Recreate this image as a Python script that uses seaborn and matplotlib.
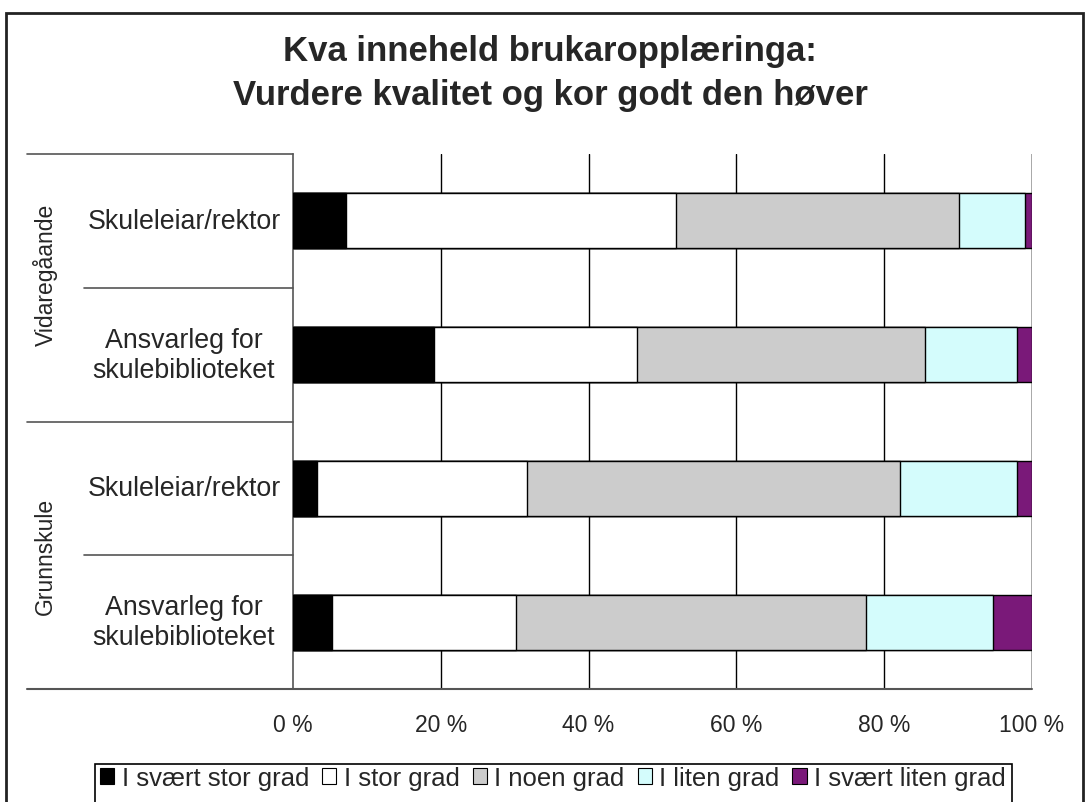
import numpy as np
import pandas as pd
import seaborn as sns
import matplotlib.pyplot as plt
from matplotlib.patches import Patch, Rectangle
from matplotlib.lines import Line2D
from matplotlib.transforms import blended_transform_factory

# ---- data -------------------------------------------------------------
groups = ["Vidaregåande", "Vidaregåande", "Grunnskule", "Grunnskule"]
roles = ["Skuleleiar/rektor", "Ansvarleg for\nskulebiblioteket",
         "Skuleleiar/rektor", "Ansvarleg for\nskulebiblioteket"]
levels = ["I svært stor grad", "I stor grad", "I noen grad",
          "I liten grad", "I svært liten grad"]
svaert_stor = [7.2, 19.1, 3.3, 5.3]
stor = [44.6, 27.5, 28.3, 24.9]
noen = [38.3, 38.9, 50.6, 47.4]
liten = [9.0, 12.5, 15.8, 17.1]
svaert_liten = [0.9, 2.0, 2.0, 5.3]
x_ticks = [0, 20, 40, 60, 80, 100]
x_tick_labels = ["0 %", "20 %", "40 %", "60 %", "80 %", "100 %"]
title_lines = ["Kva inneheld brukaropplæringa:",
               "Vurdere kvalitet og kor godt den høver"]

colors = ["#000000", "#FFFFFF", "#CCCCCC", "#D4FCFC", "#7A1979"]

# ---- style ------------------------------------------------------------
sns.set_style("white")
plt.rcParams["font.family"] = ["Liberation Sans", "DejaVu Sans"]

W, H = 1086, 803
fig = plt.figure(figsize=(W / 100, H / 100), dpi=100)
fig.patch.set_facecolor("white")

def fx(px):
    return px / W

def fy(py):
    return 1 - py / H

ax_l, ax_r, ax_t, ax_b = 293, 1032, 155, 690
ax = fig.add_axes([fx(ax_l), fy(ax_b), fx(ax_r - ax_l), (ax_b - ax_t) / H])
ax.set_facecolor("white")

keys = [f"{g} | {r}" for g, r in zip(groups, roles)]
segments = np.array([svaert_stor, stor, noen, liten, svaert_liten])
cum = np.cumsum(segments, axis=0)
df = pd.DataFrame({"key": keys})

# stacked bars: draw cumulative totals from the widest down
for i in reversed(range(len(levels))):
    df["value"] = cum[i]
    sns.barplot(data=df, x="value", y="key", orient="h", color=colors[i],
                saturation=1, edgecolor="black", linewidth=1.0, width=0.41,
                errorbar=None, ax=ax, zorder=3)

ax.set_xlim(0, 100)
ax.set_ylim(3.5, -0.5)
ax.set_xlabel("")
ax.set_ylabel("")

# vertical grid
for v in x_ticks[1:-1]:
    ax.axvline(v, color="black", lw=1.0, zorder=1)
ax.axvline(100, color="#9a9a9a", lw=1.2, zorder=1)

for s in ["top", "right", "bottom"]:
    ax.spines[s].set_visible(False)
ax.spines["left"].set_color("#555555")
ax.spines["left"].set_linewidth(1.2)

ax.set_xticks(x_ticks)
ax.set_xticklabels(x_tick_labels, fontsize=16.5)
ax.tick_params(axis="x", direction="out", length=7, width=1, color="black",
               pad=10)
ax.set_yticks([])

# category axis: separators and labels on the left
ytr = blended_transform_factory(ax.transAxes, ax.transData)
left_outer = (27 - ax_l) / (ax_r - ax_l)
left_inner = (84 - ax_l) / (ax_r - ax_l)
for y in [-0.5, 1.5]:
    ax.add_line(Line2D([left_outer, 0], [y, y], transform=ytr, color="#555555",
                       lw=1.2, clip_on=False))
ax.add_line(Line2D([left_outer, 1], [3.5, 3.5], transform=ytr, color="#555555",
                   lw=1.5, clip_on=False, zorder=4))
for y in [0.5, 2.5]:
    ax.add_line(Line2D([left_inner, 0], [y, y], transform=ytr, color="#555555",
                       lw=1.2, clip_on=False))

role_x = (184 - ax_l) / (ax_r - ax_l)
for i, r in enumerate(roles):
    ax.text(role_x, i, r, transform=ytr, ha="center", va="center",
            fontsize=19.3, linespacing=1.2)

group_x = (45 - ax_l) / (ax_r - ax_l)
for gname, ypos in [("Vidaregåande", 0.4), ("Grunnskule", 2.5)]:
    ax.text(group_x, ypos, gname, transform=ytr, ha="center", va="center",
            rotation=90, fontsize=16.5)

# title
fig.text(fx(550), fy(51), title_lines[0], ha="center", va="center",
         fontsize=25, fontweight="bold")
fig.text(fx(550), fy(95), title_lines[1], ha="center", va="center",
         fontsize=25, fontweight="bold")

# legend
handles = [Patch(facecolor=c, edgecolor="black", linewidth=0.8) for c in colors]
fig.legend(handles, levels, loc="center", bbox_to_anchor=(fx(553), fy(779)),
           ncol=5, frameon=False, fontsize=18.5, handlelength=0.55,
           handleheight=0.55, handletextpad=0.3, columnspacing=0.5,
           borderaxespad=0)
fig.add_artist(Rectangle((fx(95), fy(820)), fx(1012 - 95), (820 - 765) / H,
                         transform=fig.transFigure, fill=False,
                         edgecolor="black", lw=1.2))

# outer chart frame
fig.add_artist(Rectangle((fx(6), fy(830)), fx(1083 - 6), (830 - 14) / H,
                         transform=fig.transFigure, fill=False,
                         edgecolor="#222222", lw=2))

fig.savefig("out.png", dpi=100)
